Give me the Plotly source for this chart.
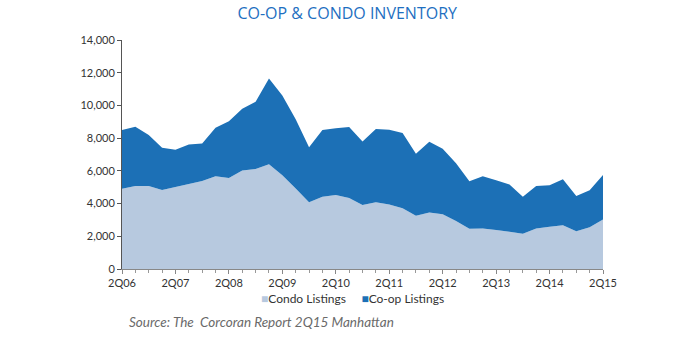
import plotly.graph_objects as go

quarters = []
for yr in range(6, 16):
    for q in (1, 2, 3, 4):
        lab = f"{q}Q{yr:02d}"
        quarters.append(lab)
quarters = quarters[1:38]  # 2Q06 .. 2Q15

total = [8500, 8700, 8190, 7410, 7290, 7610, 7670, 8640, 9030, 9800, 10230, 11640,
         10600, 9150, 7450, 8500, 8600, 8680, 7800, 8560, 8510, 8310, 7040, 7780,
         7350, 6470, 5370, 5670, 5430, 5160, 4420, 5080, 5120, 5490, 4460, 4810, 5750]
condo = [4900, 5080, 5080, 4830, 5010, 5200, 5380, 5670, 5570, 6020, 6120, 6410,
         5730, 4920, 4080, 4420, 4520, 4340, 3910, 4080, 3950, 3720, 3260, 3460,
         3340, 2930, 2460, 2480, 2380, 2270, 2150, 2480, 2580, 2680, 2310, 2560, 3030]
coop = [t - c for t, c in zip(total, condo)]

series_names = ["Condo Listings", "Co-op Listings"]
series_colors = ["#b7c9df", "#1c70b6"]

x = list(range(len(quarters)))
tickvals = [i for i, q in enumerate(quarters) if q.startswith("2Q")]
ticktext = [quarters[i] for i in tickvals]

fig = go.Figure()
for name, vals, col in zip(series_names, [condo, coop], series_colors):
    fig.add_trace(go.Scatter(x=x, y=vals, name=name, stackgroup="one",
                             mode="none", fillcolor=col, line=dict(width=0),
                             showlegend=False))

legend_text = "&nbsp;&nbsp;&nbsp;&nbsp;&nbsp;".join(
    f'<span style="color:{c}">■</span>{n}' for n, c in zip(series_names, series_colors))

fig.update_layout(
    width=700, height=342,
    margin=dict(l=122, r=97, t=40, b=73),
    plot_bgcolor="white", paper_bgcolor="white",
    font=dict(family="Lato, Open Sans, sans-serif", size=11, color="#333"),
    title=dict(text="CO-OP &amp; CONDO INVENTORY", x=0.496, xanchor="center",
               y=0.96, yanchor="middle",
               font=dict(family="Open Sans, sans-serif", size=16, color="#1e6fc1")),
    showlegend=False,
    xaxis=dict(range=[0, len(quarters) - 1], tickvals=tickvals, ticktext=ticktext,
               showgrid=False, zeroline=False, showline=True, linecolor="#888",
               linewidth=1, ticks="outside", ticklen=4, tickcolor="#888",
               minor=dict(dtick=1, ticks="outside", ticklen=3, tickcolor="#999"),
               tickfont=dict(size=11, color="#333")),
    yaxis=dict(range=[0, 14000], dtick=2000, tickformat=",", showgrid=False,
               zeroline=False, showline=True, linecolor="#555", linewidth=1,
               ticks="outside", ticklen=4, tickcolor="#555",
               tickfont=dict(size=11, color="#333")),
    annotations=[
        dict(text=legend_text, xref="paper", yref="paper", x=(352 - 122) / 481,
             y=-0.131, xanchor="center", yanchor="middle", showarrow=False,
             font=dict(size=12, color="#333")),
        dict(text="<i>Source: The  Corcoran Report 2Q15 Manhattan</i>",
             xref="paper", yref="paper", x=(127 - 122) / 481, y=-0.231,
             xanchor="left", yanchor="middle", showarrow=False,
             font=dict(size=13.5, color="#6a6a6a"))],
)

fig.write_html("out.html")
